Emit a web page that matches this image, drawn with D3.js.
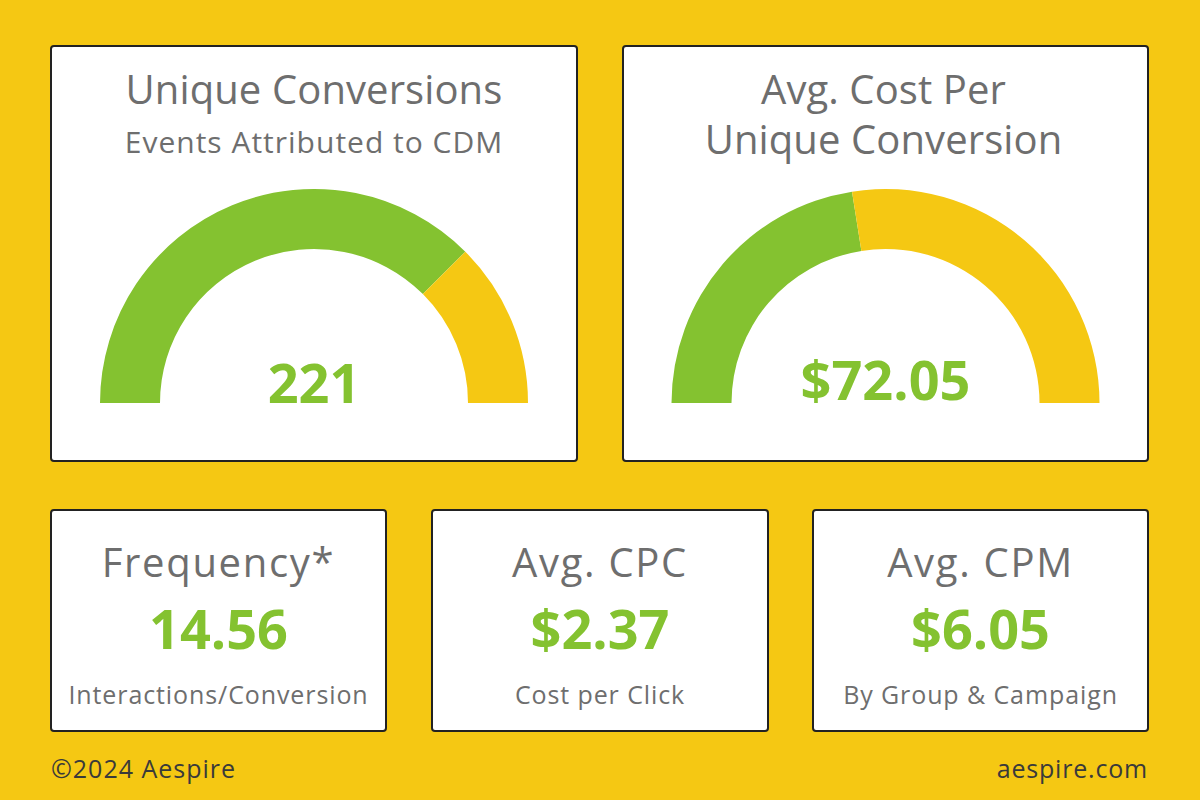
<!DOCTYPE html>
<html><head><meta charset="utf-8">
<script src="https://cdn.jsdelivr.net/npm/d3@7"></script>
<style>html,body{margin:0;padding:0;background:#F5C813;}svg{display:block;font-family:"Open Sans",sans-serif;}</style>
</head><body>
<svg id="c" width="1200" height="800"></svg>
<script>
// Gauge data
const gaugeTitles = [["Unique Conversions"], ["Avg. Cost Per", "Unique Conversion"]];
const gaugeSubtitles = ["Events Attributed to CDM", ""];
const gaugeValues = ["221", "$72.05"];
const gaugeShares = [0.75, 0.45]; // green share of the half dial
// KPI data
const kpiTitles = ["Frequency*", "Avg. CPC", "Avg. CPM"];
const kpiValues = ["14.56", "$2.37", "$6.05"];
const kpiSubtitles = ["Interactions/Conversion", "Cost per Click", "By Group & Campaign"];
const footerLeft = "©2024 Aespire";
const footerRight = "aespire.com";

const GREEN = "#84C230", YELLOW = "#F5C813", GRAY = "#6E6E6E", BORDER = "#222";
const svg = d3.select("#c");
svg.append("rect").attr("width",1200).attr("height",800).attr("fill",YELLOW);

const gaugeCards = [{x:51,y:46,w:526,h:415},{x:623,y:46,w:525,h:415}];
const kpiCards = [{x:51,y:510,w:335,h:221},{x:432,y:510,w:336,h:221},{x:813,y:510,w:335,h:221}];

function card(c){
  svg.append("rect").attr("x",c.x).attr("y",c.y).attr("width",c.w).attr("height",c.h)
    .attr("rx",3).attr("fill","#fff").attr("stroke",BORDER).attr("stroke-width",2);
}

const angle = d3.scaleLinear().domain([0,1]).range([-Math.PI/2, Math.PI/2]);
const arc = d3.arc().innerRadius(154).outerRadius(214);

gaugeCards.forEach((c,i)=>{
  card(c);
  const cx = c.x + c.w/2;
  const g = svg.append("g").attr("transform",`translate(${cx},403)`);
  const segs = [{a0:0,a1:gaugeShares[i],col:GREEN},{a0:gaugeShares[i],a1:1,col:YELLOW}];
  g.selectAll("path").data(segs).join("path")
    .attr("d",d=>arc({startAngle:angle(d.a0),endAngle:angle(d.a1)}))
    .attr("fill",d=>d.col);
  const t = gaugeTitles[i];
  if(t.length===1){
    svg.append("text").attr("x",cx).attr("y",104).attr("text-anchor","middle")
      .attr("font-size",40).attr("letter-spacing",0.1).attr("fill",GRAY).text(t[0]);
    svg.append("text").attr("x",cx).attr("y",153).attr("text-anchor","middle")
      .attr("font-size",30).attr("letter-spacing",1).attr("fill",GRAY).text(gaugeSubtitles[i]);
  } else {
    t.forEach((s,k)=>svg.append("text").attr("x",cx - 2).attr("y",104+50*k).attr("text-anchor","middle")
      .attr("font-size",40).attr("letter-spacing",0.1).attr("fill",GRAY).text(s));
  }
  svg.append("text").attr("x",cx).attr("y",i===0?403:400).attr("text-anchor","middle")
    .attr("font-size",54).attr("font-weight",700).attr("fill",GREEN).text(gaugeValues[i]);
});

kpiCards.forEach((c,i)=>{
  card(c);
  const cx = c.x + c.w/2;
  svg.append("text").attr("x",cx).attr("y",577).attr("text-anchor","middle")
    .attr("font-size",40).attr("letter-spacing",1.7).attr("fill",GRAY).text(kpiTitles[i]);
  svg.append("text").attr("x",cx).attr("y",649).attr("text-anchor","middle")
    .attr("font-size",54).attr("font-weight",700).attr("fill",GREEN).text(kpiValues[i]);
  svg.append("text").attr("x",cx).attr("y",704).attr("text-anchor","middle")
    .attr("font-size",25).attr("letter-spacing",0.9).attr("fill",GRAY).text(kpiSubtitles[i]);
});

svg.append("text").attr("x",51).attr("y",778).attr("font-size",25).attr("letter-spacing",1).attr("fill","#3a3a3a").text(footerLeft);
svg.append("text").attr("x",1148).attr("y",778).attr("text-anchor","end").attr("font-size",25).attr("letter-spacing",0.8).attr("fill","#3a3a3a").text(footerRight);
</script>
</body></html>
